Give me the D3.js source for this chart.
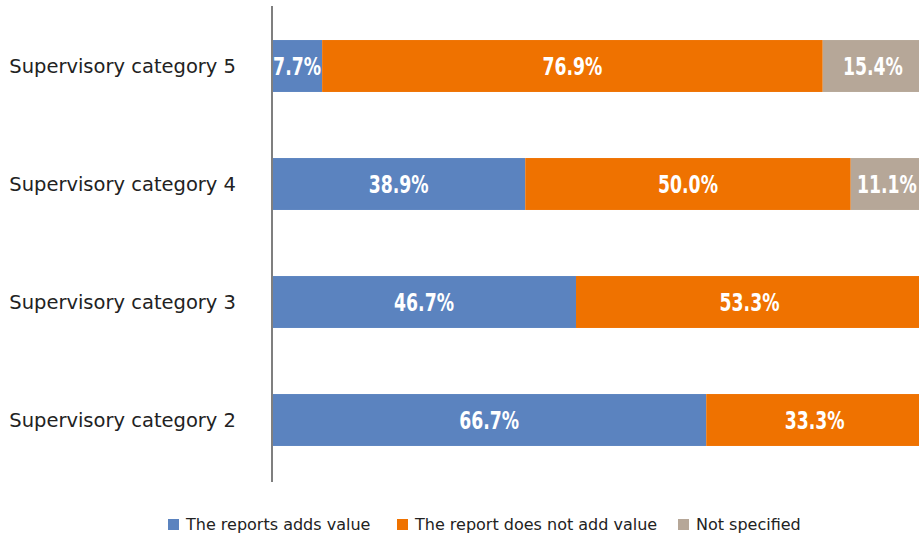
<!DOCTYPE html>
<html>
<head>
<meta charset="utf-8">
<script src="https://cdn.jsdelivr.net/npm/d3@7"></script>
<style>
  body { margin: 0; background: #fff; }
  svg { display: block; }
</style>
</head>
<body>
<svg id="chart" width="919" height="541"></svg>
<script>
const categories = ['Supervisory category 5', 'Supervisory category 4', 'Supervisory category 3', 'Supervisory category 2'];
const seriesNames = ['The reports adds value', 'The report does not add value', 'Not specified'];
const addsValue = [7.7, 38.9, 46.7, 66.7];
const noValue = [76.9, 50.0, 53.3, 33.3];
const notSpecified = [15.4, 11.1, 0, 0];
const colors = ['#5b83bf', '#ef7200', '#b6a798'];

const svg = d3.select('#chart');
const labelFont = '"DejaVu Sans", "Noto Sans", sans-serif';
const numFont = '"DejaVu Sans", sans-serif';

const x = d3.scaleLinear().domain([0, 100]).range([272, 923]);
const y = d3.scaleBand().domain(categories).range([7, 479]).paddingInner(0.56).paddingOuter(0.28);

const rows = categories.map((c, i) => ({ cat: c, v: [addsValue[i], noValue[i], notSpecified[i]] }));
const stack = d3.stack().keys([0, 1, 2]).value((d, k) => d.v[k]);
const layers = stack(rows);

const g = svg.selectAll('g.layer').data(layers).enter().append('g').attr('class', 'layer')
  .attr('fill', (d, i) => colors[i]);

g.selectAll('rect').data(d => d.filter(p => p[1] - p[0] > 0)).enter().append('rect')
  .attr('x', d => x(d[0]))
  .attr('y', d => y(d.data.cat))
  .attr('width', d => x(d[1]) - x(d[0]))
  .attr('height', y.bandwidth());

// condensed look: squeeze the bold text horizontally
g.selectAll('text').data(d => d.filter(p => p[1] - p[0] > 0)).enter().append('text')
  .attr('transform', d => `translate(${(x(d[0]) + x(d[1])) / 2},${y(d.data.cat) + y.bandwidth() / 2}) scale(0.72,1)`)
  .attr('dy', '0.36em')
  .attr('text-anchor', 'middle')
  .attr('fill', '#fff')
  .style('font-family', numFont)
  .style('font-weight', 'bold')
  .style('font-size', '24px')
  .text(d => (d[1] - d[0]).toFixed(1) + '%');

// category labels
svg.append('g').selectAll('text').data(categories).enter().append('text')
  .attr('x', 236)
  .attr('y', d => y(d) + y.bandwidth() / 2)
  .attr('dy', '0.36em')
  .attr('text-anchor', 'end')
  .attr('fill', '#222')
  .style('font-family', labelFont)
  .style('font-size', '19.5px')
  .text(d => d);

// axis line
svg.append('line')
  .attr('x1', 272).attr('x2', 272)
  .attr('y1', 6).attr('y2', 482)
  .attr('stroke', '#7f7f7f').attr('stroke-width', 2);

// legend
const legendX = [168, 397, 678];
const lg = svg.append('g').selectAll('g').data(seriesNames).enter().append('g')
  .attr('transform', (d, i) => `translate(${legendX[i]},519)`);
lg.append('rect').attr('width', 11).attr('height', 11).attr('fill', (d, i) => colors[i]);
lg.append('text')
  .attr('x', 18).attr('y', 5.5).attr('dy', '0.36em')
  .attr('fill', '#222')
  .style('font-family', labelFont)
  .style('font-size', '16px')
  .text(d => d);
</script>
</body>
</html>
